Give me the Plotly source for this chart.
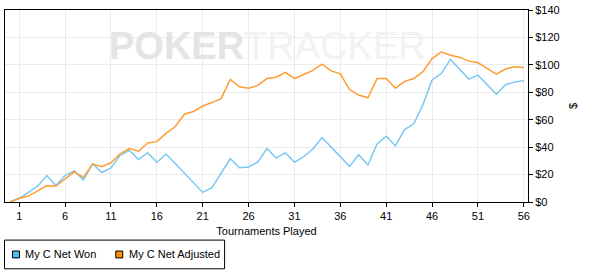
import plotly.graph_objects as go

tournaments = list(range(0, 57))
net_won = [0, 2.7, 7, 11.5, 19.3, 12, 19.3, 22.7, 16, 28, 21.5, 24.8, 34, 37.6, 31,
           36, 29, 35, 28, 21, 14, 7, 10.4, 21, 31.5, 25, 25.5, 29, 39, 32, 36, 29,
           33, 38.6, 47, 40, 33, 26, 34.5, 27, 42.4, 48, 41, 52.8, 57, 71, 89, 93.7,
           104, 97, 89.6, 92.5, 85.5, 78.6, 85.5, 87.5, 88.5]
net_adjusted = [0, 2.7, 4.3, 8, 11.8, 11.6, 17, 22, 18, 27.6, 25.8, 28.6, 35.2, 39, 37,
                43, 44, 50, 55, 64, 66, 70, 72.5, 75.4, 89.4, 84, 83, 85, 90, 91, 94.5, 90,
                93, 96, 100.5, 95.6, 93.5, 82, 78, 76, 90, 90, 83, 88, 90, 95, 104.6, 109.5,
                107, 105.6, 102.7, 101.5, 97.4, 93.3, 97, 98.6, 98]
series_names = ["My C Net Won", "My C Net Adjusted"]
x_ticks = [1, 6, 11, 16, 21, 26, 31, 36, 41, 46, 51, 56]
y_ticks = [0, 20, 40, 60, 80, 100, 120, 140]
y_tick_labels = ["$0", "$20", "$40", "$60", "$80", "$100", "$120", "$140"]

line_colors = ["#7cc8f5", "#ff9d33"]
swatch_colors = ["#55b9f2", "#ff8c0a"]
FONT = "Liberation Sans, Arial, sans-serif"

W, H = 589, 273
L, R, T, B = 4, 528, 8, 202


def px(x):
    return (x - L) / (R - L)


def py(y):
    return (B - y) / (B - T)


fig = go.Figure()
for vals, name, col in zip([net_won, net_adjusted], series_names, line_colors):
    fig.add_trace(go.Scatter(x=tournaments, y=vals, mode="lines", name=name,
                             line=dict(color=col, width=1.5), showlegend=False))

shapes = []
annotations = []

# watermark
annotations.append(dict(
    x=px(267), y=py(44), xref="paper", yref="paper", showarrow=False,
    text="<span style='color:#e4e4e4'><b>POKER</b></span><span style='color:#f2f2f2'>TRACKER</span>",
    font=dict(family=FONT, size=38), xanchor="center", yanchor="middle"))

# manual legend
shapes.append(dict(type="rect", xref="paper", yref="paper",
                   x0=px(3.5), x1=px(224), y0=py(240.5), y1=py(269.5),
                   line=dict(color="black", width=1), fillcolor="white", layer="above"))
legend_pos = [(15, 22.5), (118.5, 126)]
for (sx, tx), name, col in zip(legend_pos, series_names, swatch_colors):
    shapes.append(dict(type="rect", xref="paper", yref="paper",
                       x0=px(sx - 3.5), x1=px(sx + 3.5), y0=py(251.5), y1=py(258.5),
                       line=dict(color="black", width=1), fillcolor=col, layer="above"))
    annotations.append(dict(x=px(tx), y=py(255), xref="paper", yref="paper",
                            showarrow=False, text=name, xanchor="left", yanchor="middle",
                            font=dict(family=FONT, size=11, color="black")))

fig.update_layout(
    width=W, height=H,
    margin=dict(l=L, r=W - R, t=T, b=H - B, pad=0),
    paper_bgcolor="white", plot_bgcolor="white",
    font=dict(family=FONT, size=11, color="black"),
    showlegend=False,
    shapes=shapes, annotations=annotations,
    xaxis=dict(range=[-0.55, 56.45], tickvals=x_ticks, ticks="outside", ticklen=4,
               tickcolor="black", showline=True, linecolor="black", linewidth=1,
               mirror=True, showgrid=True, gridcolor="#ebebeb", gridwidth=1,
               zeroline=False, tickfont=dict(size=11),
               title=dict(text="Tournaments Played", font=dict(size=11), standoff=6)),
    yaxis=dict(range=[0, 140], tickvals=y_ticks, ticktext=y_tick_labels, side="right",
               ticks="outside", ticklen=4, tickcolor="black", showline=True,
               linecolor="black", linewidth=1, mirror=True, showgrid=True,
               gridcolor="#ebebeb", gridwidth=1, zeroline=False, tickfont=dict(size=11),
               title=dict(text="$", font=dict(size=11), standoff=10)),
)

fig.write_html("out.html")
